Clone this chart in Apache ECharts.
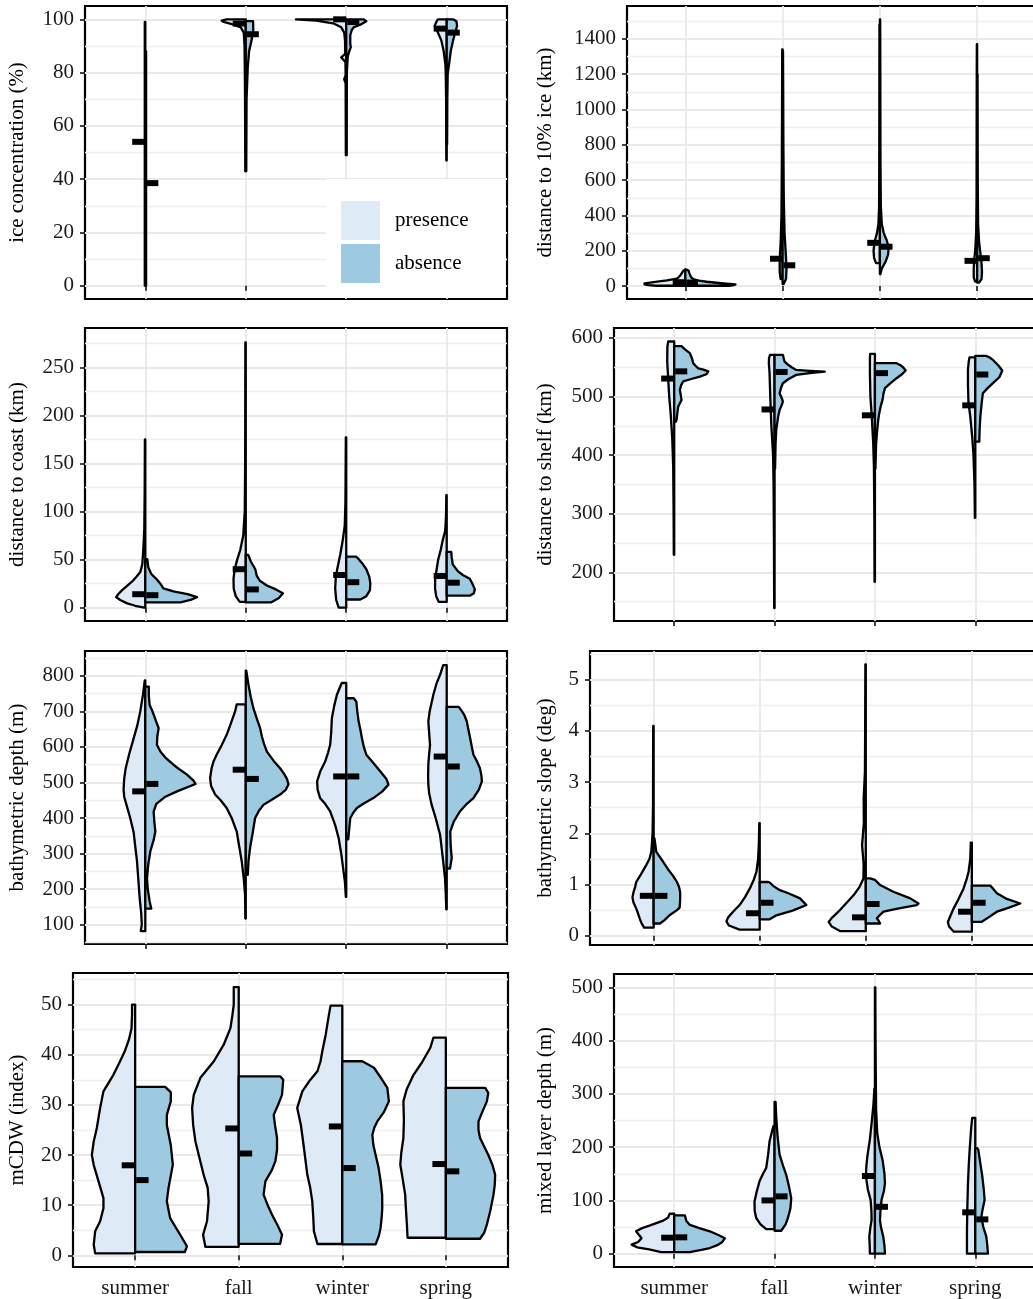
<!DOCTYPE html>
<html><head><meta charset="utf-8">
<script src="https://cdn.jsdelivr.net/npm/echarts@6/dist/echarts.min.js"></script>
<style>html,body{margin:0;padding:0;background:#fff}#c{width:1033px;height:1299px}</style>
</head><body><div id="c"></div>
<script>
const seasons = ['summer', 'fall', 'winter', 'spring'];
const groups = ['presence', 'absence'];

// Each violin half: [value, half-width in category units], from bottom to top; one per season.
// ice concentration (%)
const icePres = [
  [[0,0.005],[99,0.005]],
  [[43,0.004],[60,0.006],[75,0.008],[90,0.012],[95,0.02],[97,0.05],[98,0.12],[99,0.22],[99.5,0.24],[100,0.19]],
  [[49,0.004],[76,0.006],[77.5,0.02],[79,0.006],[84,0.008],[85.7,0.05],[87,0.01],[92,0.012],[95,0.02],[97,0.05],[98.5,0.13],[99.5,0.3],[100,0.5]],
  [[47,0.004],[70,0.006],[80,0.01],[83,0.013],[88,0.03],[92,0.053],[95,0.087],[97.6,0.12],[99.3,0.1],[100,0.087]]
];
const iceAbs = [
  [[0,0.008],[88,0.008]],
  [[43,0.005],[70,0.008],[82,0.02],[88,0.033],[92,0.057],[96,0.075],[99.3,0.073]],
  [[49,0.004],[80,0.006],[86,0.015],[88,0.03],[89.5,0.045],[91,0.04],[94,0.04],[96,0.055],[97,0.075],[98,0.14],[99.3,0.2],[100,0.17]],
  [[53,0.004],[70,0.006],[79.5,0.01],[83,0.023],[88,0.04],[92,0.063],[94.5,0.08],[97.5,0.103],[99.3,0.097],[100,0.063]]
];
const iceMedPres = [54, 98.4, 100, 96.5];
const iceMedAbs = [38.5, 94.4, 99, 95];
const iceTicks = [0,20,40,60,80,100];
const iceMinor = [10,30,50,70,90];

// distance to 10% ice (km)
const ice10Pres = [
  [[2,0.3],[5,0.38],[10,0.42],[15,0.42],[20,0.36],[25,0.29],[32,0.19],[42,0.086],[50,0.07],[62,0.05],[75,0.035],[85,0.024],[94,0.003]],
  [[40,0.02],[80,0.03],[150,0.03],[250,0.02],[400,0.012],[700,0.008],[1000,0.006],[1340,0.004]],
  [[130,0.04],[160,0.06],[200,0.065],[250,0.055],[300,0.03],[350,0.015],[450,0.008],[700,0.006],[1000,0.005],[1300,0.004],[1480,0.003]],
  [[25,0.02],[50,0.035],[100,0.035],[150,0.03],[200,0.02],[300,0.01],[500,0.006],[900,0.005],[1200,0.004],[1370,0.003]]
];
const ice10Abs = [
  [[2,0.45],[6,0.5],[9.5,0.515],[14,0.42],[19,0.32],[24.6,0.22],[31,0.14],[37.8,0.086],[50,0.06],[62,0.05],[75,0.04],[87,0.034],[93,0.015]],
  [[12,0.01],[40,0.035],[100,0.04],[160,0.035],[300,0.02],[500,0.012],[800,0.008],[1100,0.006],[1330,0.004]],
  [[68,0.005],[100,0.02],[140,0.06],[180,0.085],[220,0.09],[260,0.07],[300,0.04],[350,0.02],[450,0.01],[700,0.006],[1000,0.005],[1300,0.004],[1510,0.003]],
  [[20,0.02],[40,0.045],[80,0.05],[130,0.045],[180,0.035],[250,0.02],[350,0.01],[600,0.006],[1000,0.004],[1200,0.003]]
];
const ice10MedPres = [22, 155, 245, 143];
const ice10MedAbs = [20, 118, 223, 158];
const ice10Ticks = [0,200,400,600,800,1000,1200,1400];
const ice10Minor = [100,300,500,700,900,1100,1300,1500];

// distance to coast (km)
const coastPres = [
  [[0,0.01],[2,0.1],[4.5,0.18],[8,0.25],[11,0.29],[14,0.27],[18,0.233],[22,0.19],[27,0.133],[32,0.09],[37,0.05],[45,0.03],[55,0.023],[70,0.015],[82,0.01],[120,0.006],[175,0.004]],
  [[6,0.06],[12,0.1],[20,0.12],[30,0.122],[40,0.11],[50,0.085],[60,0.055],[75,0.025],[100,0.01],[150,0.006],[200,0.005],[276,0.004]],
  [[0,0.075],[8,0.1],[20,0.11],[30,0.105],[40,0.09],[55,0.06],[70,0.035],[85,0.015],[110,0.008],[177,0.004]],
  [[6,0.08],[12,0.105],[20,0.116],[30,0.115],[40,0.1],[50,0.085],[60,0.06],[70,0.04],[80,0.015],[95,0.007],[117,0.004]]
];
const coastAbs = [
  [[5.5,0.35],[8,0.45],[11,0.515],[14,0.42],[17,0.28],[20,0.18],[25,0.15],[30,0.11],[35,0.06],[42,0.03],[50.5,0.02]],
  [[5.5,0.25],[10,0.33],[15,0.37],[19,0.3],[23,0.21],[28,0.14],[33,0.11],[40,0.095],[48,0.05],[55,0.025]],
  [[8.5,0.14],[12,0.2],[18,0.235],[25,0.24],[32,0.23],[40,0.2],[46,0.16],[51,0.12],[53,0.1]],
  [[12.5,0.23],[15,0.27],[19,0.28],[24,0.26],[30,0.23],[34,0.16],[38,0.11],[45,0.06],[52,0.05],[58,0.045]]
];
const coastMedPres = [14, 40, 34, 33];
const coastMedAbs = [13, 19, 26.5, 26];
const coastTicks = [0,50,100,150,200,250];
const coastMinor = [25,75,125,175,225,275];

// distance to shelf (km)
const shelfPres = [
  [[230,0.004],[300,0.006],[380,0.01],[430,0.02],[470,0.035],[500,0.05],[530,0.06],[560,0.07],[585,0.068],[594,0.06]],
  [[139,0.004],[250,0.006],[350,0.01],[400,0.015],[450,0.032],[500,0.043],[540,0.05],[557,0.057],[566,0.055],[571,0.045]],
  [[184,0.004],[300,0.006],[380,0.01],[420,0.017],[470,0.033],[500,0.045],[540,0.05],[565,0.05],[573,0.048]],
  [[293,0.004],[350,0.008],[400,0.018],[430,0.03],[466,0.05],[490,0.068],[520,0.073],[546,0.073],[560,0.065],[567,0.057]]
];
const shelfAbs = [
  [[457,0.015],[460,0.023],[470,0.03],[483,0.04],[494,0.073],[503,0.065],[511,0.056],[520,0.07],[526,0.09],[530,0.17],[534,0.256],[538,0.32],[543,0.34],[546,0.29],[548,0.24],[553,0.21],[557,0.19],[566,0.175],[574,0.156],[580,0.11],[586,0.073]],
  [[377,0.005],[420,0.01],[443,0.017],[465,0.035],[477,0.05],[485,0.07],[491.5,0.083],[498,0.07],[505.7,0.05],[515,0.065],[522.8,0.083],[530,0.14],[537,0.216],[540,0.35],[542.6,0.5],[544,0.35],[545.5,0.216],[550,0.17],[555,0.13],[559.7,0.1],[566,0.09],[571,0.083]],
  [[377,0.005],[420,0.012],[443,0.023],[460,0.033],[471.6,0.043],[485,0.06],[494.4,0.076],[505,0.085],[514.3,0.1],[522,0.15],[531.3,0.216],[538,0.27],[544.4,0.307],[550,0.28],[554,0.25],[556.9,0.216]],
  [[423,0.04],[443,0.043],[465,0.05],[483,0.06],[495,0.068],[505.7,0.076],[514,0.12],[522.8,0.176],[533,0.24],[544.4,0.269],[553,0.23],[562.5,0.176],[567,0.14],[569.3,0.11]]
];
const shelfMedPres = [530.7, 478, 468, 485];
const shelfMedAbs = [543, 542, 540, 537.6];
const shelfTicks = [200,300,400,500,600];
const shelfMinor = [150,250,350,450,550];

// bathymetric depth (m)
const bathyPres = [
  [[82,0.045],[100,0.035],[130,0.04],[175,0.056],[230,0.07],[280,0.083],[320,0.1],[360,0.116],[400,0.15],[430,0.18],[460,0.21],[480,0.216],[510,0.21],[540,0.195],[580,0.16],[620,0.12],[660,0.08],[700,0.05],[747,0.023],[787,0.005]],
  [[117,0.004],[184,0.007],[230,0.02],[278,0.04],[320,0.065],[362,0.09],[400,0.14],[428,0.19],[450,0.25],[466,0.305],[490,0.345],[512,0.355],[540,0.34],[560,0.32],[578,0.29],[605,0.24],[634,0.19],[665,0.15],[700,0.106],[720,0.09]],
  [[178,0.004],[220,0.013],[250,0.027],[300,0.05],[344,0.076],[380,0.11],[419,0.16],[440,0.21],[456,0.26],[480,0.285],[503,0.29],[530,0.26],[559,0.21],[585,0.18],[606,0.16],[640,0.15],[681,0.143],[715,0.12],[747,0.093],[780,0.045]],
  [[143,0.004],[190,0.01],[231,0.017],[290,0.04],[353,0.066],[400,0.11],[437,0.15],[470,0.175],[494,0.183],[520,0.185],[550,0.183],[580,0.175],[606,0.166],[640,0.175],[672,0.183],[700,0.17],[747,0.133],[780,0.1],[803,0.066],[830,0.035]]
];
const bathyAbs = [
  [[145,0.06],[166,0.043],[200,0.025],[231,0.017],[270,0.03],[306,0.05],[340,0.085],[362,0.1],[390,0.09],[418,0.083],[440,0.11],[460,0.2],[475,0.316],[490,0.45],[496,0.5],[505,0.48],[522,0.415],[535,0.35],[550,0.28],[570,0.2],[587,0.15],[606,0.116],[630,0.12],[653,0.133],[670,0.11],[686,0.09],[704,0.066],[718,0.043],[745,0.035],[770,0.035]],
  [[240,0.02],[278,0.027],[320,0.045],[360,0.07],[400,0.093],[420,0.13],[437,0.176],[450,0.25],[466,0.342],[480,0.4],[495,0.425],[510,0.41],[525,0.38],[540,0.342],[560,0.28],[587,0.21],[610,0.18],[630,0.16],[653,0.143],[680,0.11],[709,0.076],[740,0.05],[775,0.027],[815,0.005]],
  [[340,0.02],[370,0.03],[400,0.04],[415,0.07],[428,0.106],[440,0.17],[456,0.27],[475,0.36],[494,0.42],[510,0.4],[531,0.34],[555,0.27],[578,0.2],[600,0.175],[625,0.156],[650,0.14],[672,0.123],[700,0.11],[728,0.1],[737,0.075]],
  [[258,0.033],[287,0.05],[320,0.04],[362,0.035],[390,0.07],[419,0.133],[440,0.2],[456,0.266],[480,0.32],[503,0.35],[520,0.345],[541,0.33],[560,0.3],[578,0.266],[600,0.25],[625,0.233],[650,0.215],[672,0.2],[690,0.175],[705,0.14],[713,0.12]]
];
const bathyMedPres = [475, 536, 517, 573];
const bathyMedAbs = [496, 510, 517, 545];
const bathyTicks = [100,200,300,400,500,600,700,800];
const bathyMinor = [50,150,250,350,450,550,650,750,850];

// bathymetric slope (deg)
const slopePres = [
  [[0.16,0.09],[0.25,0.115],[0.34,0.132],[0.45,0.15],[0.53,0.164],[0.65,0.19],[0.75,0.2],[0.85,0.19],[0.95,0.175],[1.05,0.164],[1.2,0.12],[1.38,0.07],[1.5,0.04],[1.64,0.022],[2,0.01],[2.5,0.006],[3.5,0.005],[4.1,0.004]],
  [[0.12,0.19],[0.2,0.29],[0.28,0.314],[0.35,0.3],[0.45,0.26],[0.6,0.19],[0.75,0.14],[0.92,0.094],[1.1,0.055],[1.25,0.031],[1.5,0.015],[1.8,0.008],[2.2,0.004]],
  [[0.09,0.24],[0.18,0.32],[0.27,0.35],[0.35,0.32],[0.47,0.258],[0.6,0.2],[0.79,0.116],[0.95,0.06],[1.12,0.022],[1.4,0.02],[1.77,0.035],[2.2,0.018],[2.68,0.02],[3.2,0.008],[4,0.006],[5.3,0.004]],
  [[0.08,0.17],[0.18,0.215],[0.27,0.226],[0.4,0.2],[0.53,0.173],[0.7,0.13],[0.92,0.079],[1.1,0.05],[1.25,0.031],[1.5,0.015],[1.82,0.01]]
];
const slopeAbs = [
  [[0.24,0.06],[0.3,0.1],[0.4,0.15],[0.5,0.22],[0.55,0.245],[0.7,0.25],[0.85,0.25],[0.95,0.24],[1.05,0.22],[1.18,0.18],[1.3,0.135],[1.45,0.088],[1.64,0.025],[1.9,0.008]],
  [[0.32,0.09],[0.4,0.157],[0.49,0.31],[0.6,0.44],[0.73,0.38],[0.83,0.27],[0.89,0.19],[0.97,0.13],[1.04,0.094],[1.05,0.08]],
  [[0.24,0.135],[0.3,0.12],[0.34,0.104],[0.4,0.13],[0.47,0.167],[0.53,0.3],[0.6,0.48],[0.63,0.497],[0.73,0.42],[0.86,0.26],[0.99,0.135],[1.09,0.088],[1.12,0.04]],
  [[0.27,0.09],[0.35,0.15],[0.47,0.236],[0.55,0.35],[0.63,0.456],[0.72,0.33],[0.83,0.236],[0.92,0.2],[0.98,0.173]]
];
const slopeMedPres = [0.78, 0.44, 0.36, 0.47];
const slopeMedAbs = [0.78, 0.645, 0.62, 0.645];
const slopeTicks = [0,1,2,3,4,5];
const slopeMinor = [0.5,1.5,2.5,3.5,4.5,5.5];

// mCDW (index)
const mcdwPres = [
  [[0.4,0.386],[2.1,0.4],[4.8,0.386],[6.8,0.338],[9.4,0.306],[11.4,0.306],[14.8,0.354],[18,0.4],[20,0.418],[22.7,0.4],[25.4,0.37],[29.4,0.338],[32.7,0.306],[36,0.21],[38.5,0.15],[40.7,0.1],[43,0.06],[45.3,0.035],[48,0.03],[50,0.03]],
  [[1.7,0.322],[4.1,0.344],[6.8,0.306],[10.8,0.29],[13.5,0.3],[16,0.338],[19.5,0.38],[22.7,0.418],[26,0.44],[29.4,0.45],[32,0.434],[35.4,0.37],[38.7,0.24],[42,0.145],[45.3,0.08],[48,0.06],[50,0.048],[53.5,0.048]],
  [[2.26,0.24],[4.8,0.274],[7.5,0.28],[10.8,0.29],[13.5,0.31],[16.1,0.338],[21.4,0.37],[26,0.4],[29.4,0.435],[32.7,0.386],[34.7,0.32],[36.7,0.24],[38.7,0.21],[40.7,0.193],[44,0.16],[48,0.129],[49.8,0.113]],
  [[3.5,0.37],[6.1,0.376],[9,0.385],[12.1,0.393],[15,0.415],[18.1,0.44],[20.5,0.43],[23.4,0.41],[27,0.405],[30.7,0.41],[33,0.38],[36,0.312],[38.5,0.23],[41.4,0.15],[43.4,0.12]]
];
const mcdwAbs = [
  [[0.66,0.48],[1.8,0.5],[4.1,0.435],[7.4,0.338],[10.8,0.306],[13.4,0.322],[18.1,0.364],[22,0.344],[26,0.306],[28,0.306],[30.7,0.344],[32.5,0.345],[33.6,0.29]],
  [[2.3,0.4],[4.1,0.418],[6,0.375],[8.1,0.322],[10,0.28],[12.1,0.24],[14.8,0.258],[17,0.32],[18.8,0.354],[21,0.37],[23.4,0.37],[26,0.35],[28,0.338],[30,0.38],[32,0.418],[35,0.43],[35.7,0.4]],
  [[2.2,0.322],[4,0.355],[5.5,0.37],[7.5,0.38],[9.4,0.386],[12,0.385],[14.8,0.37],[17.5,0.35],[20,0.322],[22,0.3],[24,0.29],[25.5,0.31],[26.7,0.338],[28.5,0.4],[30.7,0.45],[33.4,0.435],[35.5,0.37],[37.4,0.306],[38.7,0.193]],
  [[3.3,0.33],[4.5,0.37],[6.1,0.396],[9,0.43],[12.1,0.46],[14,0.472],[16.1,0.476],[18,0.45],[20,0.41],[21.7,0.37],[23.4,0.33],[25,0.315],[26.7,0.315],[28.5,0.35],[30.7,0.396],[32.4,0.41],[33.4,0.38]]
];
const mcdwMedPres = [17.95, 25.3, 25.7, 18.2];
const mcdwMedAbs = [15, 20.3, 17.4, 16.75];
const mcdwTicks = [0,10,20,30,40,50];
const mcdwMinor = [5,15,25,35,45,55];

// mixed layer depth (m)
const mldPres = [
  [[3,0.13],[8,0.25],[12,0.37],[17,0.425],[22,0.36],[29,0.326],[35,0.35],[42,0.38],[48,0.32],[53,0.24],[62,0.11],[68,0.06],[73,0.05],[75,0.045]],
  [[46,0.083],[55,0.14],[67,0.183],[80,0.198],[98,0.2],[115,0.18],[136,0.15],[150,0.115],[161,0.083],[185,0.065],[211,0.05],[230,0.025],[240,0.01]],
  [[0,0.05],[15,0.052],[32,0.056],[50,0.045],[63,0.033],[80,0.035],[101,0.043],[120,0.07],[145,0.09],[165,0.085],[182,0.076],[215,0.05],[245,0.033],[280,0.015],[310,0.005]],
  [[0,0.083],[40,0.083],[80,0.08],[132,0.073],[170,0.064],[195,0.056],[220,0.047],[238,0.04],[255,0.03]]
];
const mldAbs = [
  [[3,0.156],[7,0.27],[10.6,0.355],[16,0.43],[22,0.48],[29,0.505],[35,0.44],[42,0.355],[48,0.25],[54,0.156],[62,0.12],[72,0.106]],
  [[43,0.066],[55,0.11],[67,0.133],[85,0.158],[104,0.166],[125,0.145],[148,0.116],[165,0.085],[186,0.05],[220,0.03],[255,0.017],[285,0.01]],
  [[0,0.1],[15,0.095],[32,0.083],[50,0.06],[63,0.05],[80,0.055],[101,0.066],[118,0.09],[132,0.1],[150,0.095],[176,0.076],[200,0.045],[226,0.023],[270,0.012],[307,0.01],[400,0.006],[500,0.004]],
  [[0,0.126],[15,0.12],[32,0.11],[50,0.08],[69,0.06],[85,0.075],[101,0.093],[120,0.085],[145,0.07],[170,0.05],[195,0.03],[198,0.02]]
];
const mldMedPres = [30, 100, 145.8, 77.6];
const mldMedAbs = [30.7, 107.6, 88, 64.4];
const mldTicks = [0,100,200,300,400,500];
const mldMinor = [50,150,250,350,450];

// ---------- layout / styling ----------
const FONT = 'Liberation Serif';
const PRES_COLOR = '#deebf7';
const ABS_COLOR = '#9ecae1';

const panels = [
  {title:'ice concentration (%)', pres:icePres, abs:iceAbs, mp:iceMedPres, ma:iceMedAbs, ticks:iceTicks, minor:iceMinor, min:-5, max:105, box:[85,6,422,293], gap:57, xlab:false},
  {title:'distance to 10% ice (km)', pres:ice10Pres, abs:ice10Abs, mp:ice10MedPres, ma:ice10MedAbs, ticks:ice10Ticks, minor:ice10Minor, min:-73, max:1586, box:[627,6,408.5,293], gap:71, xlab:false},
  {title:'distance to coast (km)', pres:coastPres, abs:coastAbs, mp:coastMedPres, ma:coastMedAbs, ticks:coastTicks, minor:coastMinor, min:-13.85, max:290.85, box:[85,328,422,293], gap:57, xlab:false},
  {title:'distance to shelf (km)', pres:shelfPres, abs:shelfAbs, mp:shelfMedPres, ma:shelfMedAbs, ticks:shelfTicks, minor:shelfMinor, min:117, max:617, box:[614,328,421.5,293], gap:58, xlab:false},
  {title:'bathymetric depth (m)', pres:bathyPres, abs:bathyAbs, mp:bathyMedPres, ma:bathyMedAbs, ticks:bathyTicks, minor:bathyMinor, min:45.5, max:870, box:[85,651,422,293], gap:57, xlab:false},
  {title:'bathymetric slope (deg)', pres:slopePres, abs:slopeAbs, mp:slopeMedPres, ma:slopeMedAbs, ticks:slopeTicks, minor:slopeMinor, min:-0.18, max:5.56, box:[590,651,445.5,294], gap:34, xlab:false},
  {title:'mCDW (index)', pres:mcdwPres, abs:mcdwAbs, mp:mcdwMedPres, ma:mcdwMedAbs, ticks:mcdwTicks, minor:mcdwMinor, min:-2.33, max:56.3, box:[73,973,435,294], gap:45, xlab:true},
  {title:'mixed layer depth (m)', pres:mldPres, abs:mldAbs, mp:mldMedPres, ma:mldMedAbs, ticks:mldTicks, minor:mldMinor, min:-25, max:525, box:[614,974,421.5,293], gap:58, xlab:true}
];

function violinRender(profiles, side, fill) {
  return function (params, api) {
    const prof = profiles[params.dataIndex];
    const x = api.value(0);
    const pts = prof.map(p => api.coord([x + side * p[1], p[0]]));
    pts.push(api.coord([x, prof[prof.length - 1][0]]));
    pts.push(api.coord([x, prof[0][0]]));
    return {
      type: 'polygon',
      shape: { points: pts },
      style: { fill: fill, stroke: '#000', lineWidth: 2.3, lineJoin: 'round' }
    };
  };
}
function medianRender(params, api) {
  const x = api.value(0), v = api.value(1), side = api.value(2);
  const a = api.coord([x + (side < 0 ? -0.13 : 0.01), v]);
  const b = api.coord([x + (side < 0 ? 0 : 0.13), v]);
  return { type: 'rect', shape: { x: a[0], y: a[1] - 3, width: b[0] - a[0], height: 6 }, style: { fill: '#000' } };
}

const grid = [], xAxis = [], yAxis = [], series = [];
panels.forEach((p, k) => {
  const [l, t, w, h] = p.box;
  grid.push({ left: l, top: t, width: w, height: h, show: true, borderColor: '#000', borderWidth: 2.2,
    backgroundColor: 'transparent', containLabel: false, outerBoundsMode: 'none' });
  xAxis.push({
    gridIndex: k, type: 'value', min: 0.4, max: 4.6,
    axisLine: { show: false },
    axisTick: { show: true, length: 5, customValues: [1,2,3,4], lineStyle: { color: '#222', width: 1.7 } },
    axisLabel: { show: p.xlab, customValues: [1,2,3,4], formatter: v => seasons[Math.round(v) - 1],
      fontSize: 21, color: '#1a1a1a', margin: 11, fontFamily: FONT },
    splitLine: { show: true, lineStyle: { color: '#e9e9e9', width: 1.8 } }
  });
  yAxis.push({
    gridIndex: k, type: 'value', min: p.min, max: p.max,
    name: p.title, nameLocation: 'middle', nameGap: p.gap,
    nameTextStyle: { fontSize: 21, color: '#000', fontFamily: FONT },
    axisLine: { show: false },
    axisTick: { show: true, length: 5, customValues: p.ticks, lineStyle: { color: '#222', width: 1.7 } },
    axisLabel: { customValues: p.ticks, formatter: v => String(v), fontSize: 21, color: '#1a1a1a', margin: 11, fontFamily: FONT },
    splitLine: { show: true, lineStyle: { color: '#e9e9e9', width: 1.8 } }
  });
  yAxis.push({
    gridIndex: k, type: 'value', min: p.min, max: p.max, position: 'left',
    axisLine: { show: false },
    axisTick: { show: false, customValues: p.minor },
    axisLabel: { show: false, customValues: p.minor },
    splitLine: { show: true, lineStyle: { color: '#eeeeee', width: 1.3 } }
  });
  const data = (meds) => seasons.map((s, i) => [i + 1, meds[i]]);
  series.push({ type: 'custom', name: 'presence', xAxisIndex: k, yAxisIndex: 2 * k, z: 2, silent: true,
    itemStyle: { color: PRES_COLOR }, renderItem: violinRender(p.pres, -1, PRES_COLOR),
    data: data(p.mp), encode: { x: 0, y: 1 } });
  series.push({ type: 'custom', name: 'absence', xAxisIndex: k, yAxisIndex: 2 * k, z: 2, silent: true,
    itemStyle: { color: ABS_COLOR }, renderItem: violinRender(p.abs, 1, ABS_COLOR),
    data: data(p.ma), encode: { x: 0, y: 1 } });
  series.push({ type: 'custom', name: 'median', xAxisIndex: k, yAxisIndex: 2 * k, z: 3, silent: true,
    renderItem: medianRender,
    data: seasons.map((s, i) => [i + 1, p.mp[i], -1]).concat(seasons.map((s, i) => [i + 1, p.ma[i], 1])),
    encode: { x: 0, y: 1 } });
});

const chart = echarts.init(document.getElementById('c'), null, { renderer: 'canvas' });
chart.setOption({
  backgroundColor: '#fff',
  animation: false,
  textStyle: { fontFamily: FONT },
  legend: {
    data: groups, orient: 'vertical', left: 326, top: 179,
    backgroundColor: '#fff', padding: [22, 37, 14, 15],
    itemWidth: 39, itemHeight: 39, itemGap: 4, icon: 'rect', selectedMode: false,
    itemStyle: { borderWidth: 0 },
    textStyle: { fontSize: 21, fontFamily: FONT, color: '#000', padding: [4, 0, 0, 10] }
  },
  grid, xAxis, yAxis, series
});
</script>
</body></html>
